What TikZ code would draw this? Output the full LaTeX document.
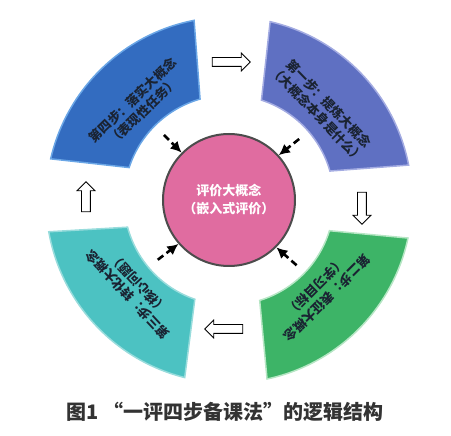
\documentclass[tikz,border=0pt]{standalone}
\usepackage{fontspec}
\setmainfont{Noto Sans CJK SC}
\usepackage{tikz}
\usetikzlibrary{arrows.meta,shapes.arrows}

\definecolor{stepone}{HTML}{5F70C2}
\definecolor{steponeline}{HTML}{A4ACE2}
\definecolor{steptwo}{HTML}{3DB467}
\definecolor{steptwoline}{HTML}{B6E6C4}
\definecolor{stepthree}{HTML}{4CC2C2}
\definecolor{stepthreeline}{HTML}{98DCDC}
\definecolor{stepfour}{HTML}{336CC0}
\definecolor{stepfourline}{HTML}{6AA6E6}
\definecolor{evalpink}{HTML}{E06CA0}
\definecolor{segtextcol}{HTML}{1A2332}
\definecolor{captioncol}{HTML}{333333}

\begin{document}
\begin{tikzpicture}[x=1pt,y=1pt,
    segtext/.style={align=center,text=segtextcol,font=\fontsize{12.8}{15.5}\selectfont\bfseries},
    blockarrow/.style={single arrow,draw=black,fill=white,line width=0.8pt,
        inner sep=4pt,single arrow head extend=4.5pt,minimum height=38pt},
    feedback/.style={line width=2.6pt,dash pattern=on 7pt off 4pt,-{Latex[length=11pt,width=11pt]}}]
    \useasboundingbox (-229,-236) rectangle (222,200);

    \fill[stepone,draw=steponeline,line width=1.5pt] (77:183pt) arc[start angle=77,end angle=11,radius=183pt]
        -- (16:105pt) arc[start angle=16,end angle=72,radius=105pt] -- cycle;
    \fill[steptwo,draw=steptwoline,line width=1.5pt] (-12:183pt) arc[start angle=-12,end angle=-78,radius=183pt]
        -- (-73:105pt) arc[start angle=-73,end angle=-17,radius=105pt] -- cycle;
    \fill[stepthree,draw=stepthreeline,line width=1.5pt] (256:183pt) arc[start angle=256,end angle=190,radius=183pt]
        -- (195:105pt) arc[start angle=195,end angle=251,radius=105pt] -- cycle;
    \fill[stepfour,draw=stepfourline,line width=1.5pt] (167:183pt) arc[start angle=167,end angle=101,radius=183pt]
        -- (106:105pt) arc[start angle=106,end angle=162,radius=105pt] -- cycle;

    \node(step1)[segtext,rotate=-46] at (44:131) {第一步：提炼大概念\\（大概念本身是什么）};
    \node(step2)[segtext,rotate=225] at (315:131) {第二步：表征大概念\\（学习目标）};
    \node(step3)[segtext,rotate=133] at (223:131) {第三步：转化大概念\\（核心问题）};
    \node(step4)[segtext,rotate=44] at (134:131) {第四步：落实大概念\\（表现性任务）};

    \node(eval)[circle,draw=black!70,line width=2pt,fill=evalpink,minimum size=132pt,
        align=center,text=white,font=\fontsize{13}{18}\selectfont\bfseries] at (0,0) {评价大概念\\（嵌入式评价）};

    \coordinate(f1) at (41:93);
    \coordinate(f2) at (316:94);
    \coordinate(f3) at (220:93);
    \coordinate(f4) at (135:92);
    \draw[feedback](f1) -- (eval.42);
    \draw[feedback](f2) -- (eval.315);
    \draw[feedback](f3) -- (eval.221);
    \draw[feedback](f4) -- (eval.135);

    \node(arr1)[blockarrow] at (0,138) {};
    \node(arr2)[blockarrow,shape border rotate=270,minimum height=32pt] at (133,-6) {};
    \node(arr3)[blockarrow,shape border rotate=180] at (-3,-129) {};
    \node(arr4)[blockarrow,shape border rotate=90,minimum height=30pt] at (-143,1) {};

    \node(caption)[text=captioncol,font=\fontsize{20}{24}\selectfont\bfseries] at (-4,-212) {图1 “一评四步备课法”的逻辑结构};
\end{tikzpicture}
\end{document}
